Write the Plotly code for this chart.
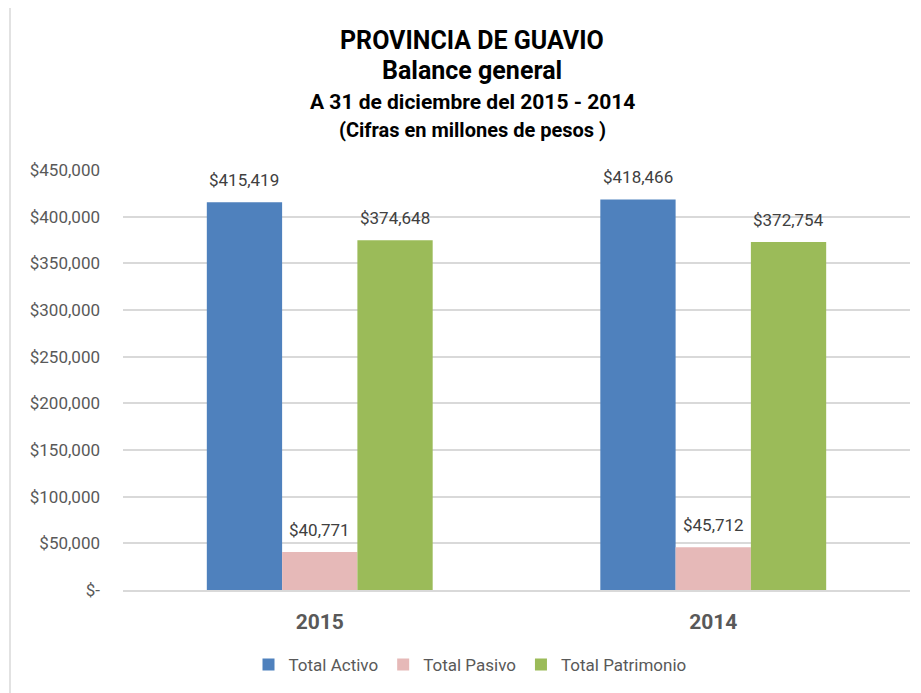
import plotly.graph_objects as go

# ── Data ──────────────────────────────────────────────────────────────────────
YEARS = ["2015", "2014"]
TOTAL_ACTIVO = [415419, 418466]
TOTAL_PASIVO = [40771, 45712]
TOTAL_PATRIMONIO = [374648, 372754]
SERIES_NAMES = ["Total Activo", "Total Pasivo", "Total Patrimonio"]
Y_TICKS = [0, 50000, 100000, 150000, 200000, 250000, 300000, 350000, 400000, 450000]
Y_TICK_TEXT = ["$-"] + [f"${v:,}" for v in Y_TICKS[1:]]
TITLE_LINES = [
    "PROVINCIA DE GUAVIO",
    "Balance general",
    "A 31 de diciembre del 2015 - 2014",
    "(Cifras en millones de pesos )",
]

# ── Style ─────────────────────────────────────────────────────────────────────
BLUE = "#4F81BD"
PINK = "#E6B9B8"
GREEN = "#9BBB59"
GRID = "#D9D9D9"
TICK = "#595959"
LABEL = "#404040"
FONT = "Roboto, sans-serif"

# page body has an 8px margin, so plot area pixels: x 123..910, y 170..590
PLOT_W = 787
BARGAP = 0.426
bar_px = PLOT_W / len(YEARS) * (1 - BARGAP) / len(SERIES_NAMES)

fig = go.Figure()
all_vals = [TOTAL_ACTIVO, TOTAL_PASIVO, TOTAL_PATRIMONIO]
for i, (name, vals, color) in enumerate(zip(SERIES_NAMES, all_vals, [BLUE, PINK, GREEN])):
    fig.add_trace(go.Bar(
        x=YEARS, y=vals, name=name,
        marker=dict(color=color, line=dict(width=0)),
        hoverinfo="x+y+name",
    ))
    # data labels, lifted a bit higher than plotly's "outside" text
    for j, v in enumerate(vals):
        fig.add_annotation(
            x=j, y=v, xref="x", yref="y",
            text=f"${v:,}", showarrow=False,
            xanchor="center", yanchor="bottom",
            xshift=(i - 1) * bar_px, yshift=10,
            font=dict(size=17, color=LABEL, family=FONT),
        )

# title lines as annotations (different sizes)
title_y = [40, 71, 102, 130]
title_size = [25, 25, 21, 20]
for txt, py, sz in zip(TITLE_LINES, title_y, title_size):
    fig.add_annotation(
        text=f"<b>{txt}</b>", xref="paper", yref="paper",
        x=(472 - 123) / PLOT_W, y=(590 - py) / 420,
        xanchor="center", yanchor="middle", showarrow=False,
        font=dict(size=sz, color="#000000", family=FONT),
    )

# chart-area border
fig.add_shape(
    type="rect", xref="paper", yref="paper",
    x0=(10 - 123) / PLOT_W, x1=(935 - 123) / PLOT_W,
    y0=(590 - 710) / 420, y1=(590 - 3) / 420,
    line=dict(color=GRID, width=1.5), layer="below",
)

fig.update_layout(
    width=921, height=693,
    paper_bgcolor="white", plot_bgcolor="white",
    margin=dict(l=115, r=19, t=162, b=111),
    font=dict(family=FONT, color=TICK, size=17),
    barmode="group", bargap=BARGAP, bargroupgap=0,
    showlegend=True,
    legend=dict(
        orientation="h", xanchor="center", yanchor="middle",
        x=(470 - 123) / PLOT_W, y=(590 - 665) / 420,
        font=dict(size=17, color=TICK, family=FONT),
        itemwidth=30, traceorder="normal",
    ),
    xaxis=dict(
        type="category", categoryorder="array", categoryarray=YEARS,
        range=[-0.5, len(YEARS) - 0.5],
        showgrid=False, showline=True, linecolor=GRID, linewidth=1.5,
        tickfont=dict(size=21, color=TICK, family=FONT),
        ticklabelstandoff=12,
    ),
    yaxis=dict(
        range=[0, 450000], tickvals=Y_TICKS, ticktext=Y_TICK_TEXT,
        showgrid=True, gridcolor=GRID, gridwidth=1.5,
        zeroline=False, showline=False,
        tickfont=dict(size=17, color=TICK, family=FONT),
        ticklabelstandoff=22,
    ),
)
fig.update_xaxes(tickprefix="<b>", ticksuffix="</b>")

fig.write_html("out.html")
